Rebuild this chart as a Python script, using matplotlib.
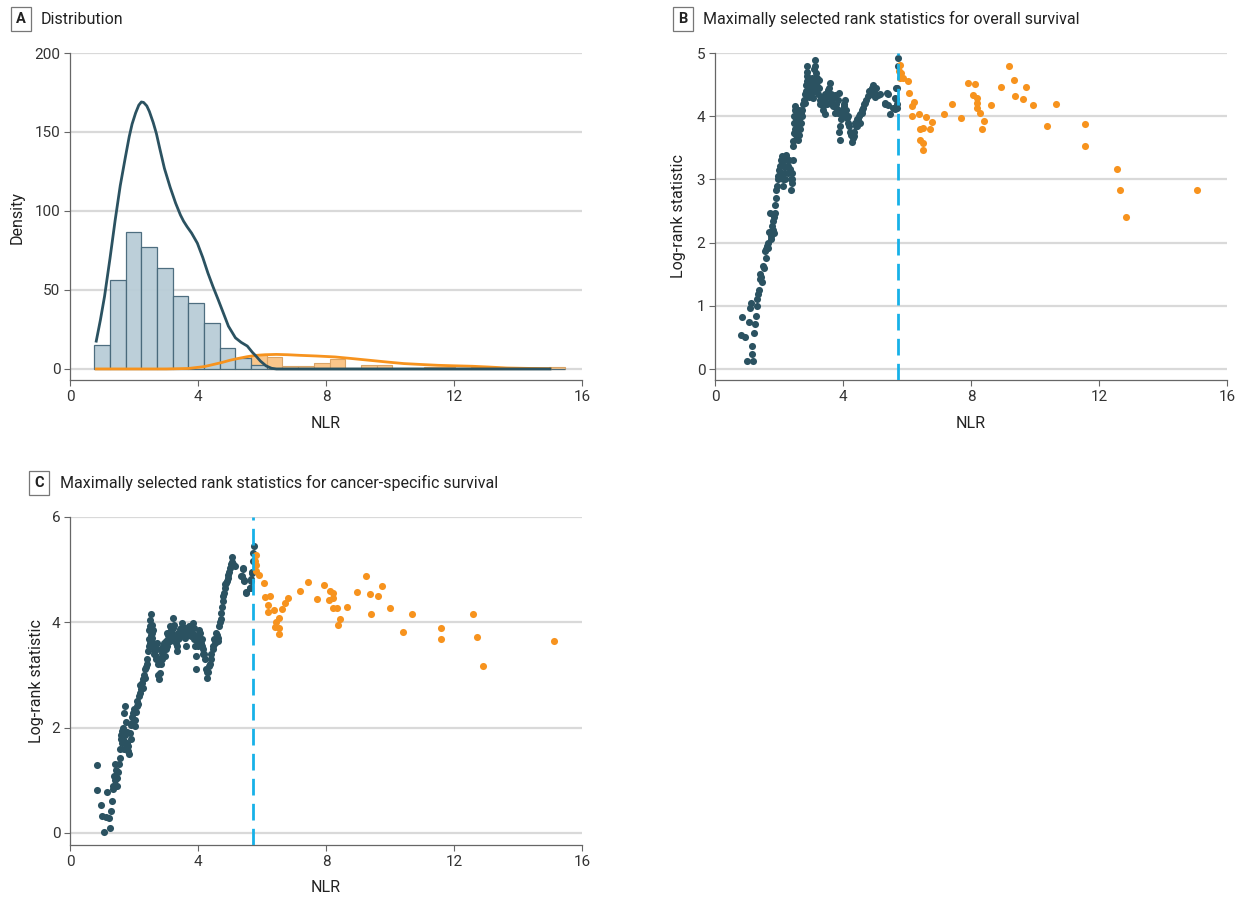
import matplotlib
matplotlib.use("Agg")
import matplotlib.pyplot as plt
from matplotlib import font_manager

# pick a narrow-ish font if there is one
names = set(f.name for f in font_manager.fontManager.ttflist)
fam = "Liberation Sans Narrow" if "Liberation Sans Narrow" in names else "Roboto"
plt.rcParams['font.family'] = [fam, 'DejaVu Sans']

DARK = '#2b5261'
ORANGE = '#f7931e'
CUT = '#17b1e8'
GRID = '#d9d9d9'

# ---- panel A: histogram (30 bins) + density curves
bin_start = 0.76
bin_width = 0.49
low_counts = [15, 56, 87, 77, 64, 46, 42, 29, 13, 7, 2.4, 0, 0, 0, 0,
              0, 0, 0, 0, 0, 0, 0, 0, 0, 0, 0, 0, 0, 0, 0]
high_counts = [0, 0, 0, 0, 0, 0, 0, 0, 0, 0, 8.7, 7.4, 1.7, 1.7, 3.6,
               6.4, 0.3, 2.5, 2.5, 0.8, 0.8, 1.3, 1.0, 0.8, 1.3, 0, 0, 0, 0, 1.2]

low_dens_x = [0.82, 0.95, 1.08, 1.25, 1.41, 1.57, 1.73, 1.85, 1.94, 2.05, 2.15, 2.23,
              2.3, 2.4, 2.48, 2.6, 2.7, 2.8, 2.95, 3.13, 3.3, 3.45, 3.55, 3.66, 3.8,
              3.98, 4.15, 4.31, 4.47, 4.63, 4.8, 4.95, 5.17, 5.35, 5.54, 5.7, 5.81,
              5.95, 6.13, 6.3, 6.45, 8, 10, 12, 14, 15.0]
low_dens_y = [17.6, 31, 46, 70, 94, 116, 134, 147, 155, 162, 167, 169,
              168.7, 166.5, 163, 156, 149, 140, 127, 115, 105, 97.5, 93.5, 90, 86,
              79.6, 70.5, 60.7, 52, 43.9, 35, 27.1, 19.7, 16.8, 14.5, 10.5, 8.2,
              5, 1.9, 0.4, 0, 0, 0, 0, 0, 0]
high_dens_x = [0.82, 2, 3, 3.7, 4.2, 4.73, 5.0, 5.27, 5.55, 5.81, 6.1, 6.45, 6.8,
               7.2, 7.7, 8.28, 8.8, 9.35, 9.9, 10.43, 11.0, 11.5, 12.0, 12.57, 13.1,
               13.65, 14.3, 15.0]
high_dens_y = [0, 0, 0, 0.3, 1.5, 4, 5.5, 6.7, 7.8, 8.6, 9.0, 9.2, 9.0,
               8.6, 8.2, 7.6, 6.6, 5.5, 4.4, 3.4, 2.8, 2.3, 2.0, 1.7, 1.2,
               0.6, 0.35, 0.2]

# ---- panel B: overall survival, log-rank statistic per cutpoint
os_low_x = [0.81, 0.83, 0.95, 1.01, 1.06, 1.09, 1.14, 1.15, 1.17, 1.2, 1.22, 1.25, 1.28, 1.3,
            1.32, 1.35, 1.37, 1.4, 1.42, 1.44, 1.47, 1.51, 1.53, 1.56, 1.58, 1.6, 1.63, 1.65,
            1.67, 1.69, 1.72, 1.74, 1.76, 1.77, 1.8, 1.82, 1.83, 1.85, 1.87, 1.89, 1.9, 1.92,
            1.94, 1.96, 1.98, 2.0, 2.01, 2.03, 2.05, 2.06, 2.08, 2.1, 2.11, 2.13, 2.15, 2.16,
            2.18, 2.2, 2.21, 2.23, 2.25, 2.27, 2.29, 2.31, 2.34, 2.36, 2.39, 2.4, 2.41, 2.42,
            2.43, 2.44, 2.45, 2.46, 2.47, 2.48, 2.49, 2.5, 2.5, 2.52, 2.53, 2.54, 2.55, 2.56,
            2.57, 2.58, 2.59, 2.6, 2.61, 2.62, 2.63, 2.64, 2.65, 2.67, 2.68, 2.7, 2.72, 2.73,
            2.75, 2.78, 2.8, 2.81, 2.83, 2.85, 2.86, 2.87, 2.88, 2.89, 2.9, 2.92, 2.94, 2.96,
            2.98, 3.0, 3.01, 3.03, 3.05, 3.07, 3.09, 3.1, 3.12, 3.14, 3.15, 3.16, 3.17, 3.19,
            3.2, 3.22, 3.24, 3.26, 3.27, 3.29, 3.31, 3.33, 3.36, 3.38, 3.4, 3.43, 3.45, 3.48,
            3.5, 3.53, 3.55, 3.57, 3.59, 3.62, 3.64, 3.66, 3.69, 3.72, 3.74, 3.76, 3.79, 3.82,
            3.84, 3.85, 3.87, 3.88, 3.9, 3.91, 3.93, 3.95, 3.97, 4.0, 4.02, 4.04, 4.06, 4.07,
            4.1, 4.13, 4.15, 4.17, 4.19, 4.21, 4.24, 4.26, 4.28, 4.3, 4.33, 4.35, 4.37, 4.4,
            4.43, 4.45, 4.47, 4.5, 4.52, 4.54, 4.58, 4.6, 4.63, 4.66, 4.7, 4.73, 4.78, 4.81,
            4.84, 4.87, 4.9, 4.94, 4.97, 5.0, 5.02, 5.09, 5.15, 5.3, 5.3, 5.39, 5.41, 5.41,
            5.46, 5.56, 5.61, 5.62, 5.65, 5.67, 5.68, 5.69, 5.7, 5.71, 5.72]
os_low_y = [0.54, 0.82, 0.51, 0.12, 0.75, 0.96, 1.05, 0.37, 0.24, 0.13, 0.57, 0.71, 0.84, 1.0,
            1.1, 1.18, 1.25, 1.42, 1.51, 1.45, 1.38, 1.63, 1.6, 1.87, 1.75, 1.9, 1.95, 2.0,
            1.92, 2.16, 2.47, 2.1, 2.05, 2.26, 2.2, 2.34, 2.15, 2.4, 2.47, 2.6, 2.7, 2.84,
            2.9, 3.0, 3.05, 3.05, 3.15, 3.21, 3.3, 3.1, 3.37, 3.25, 3.0, 2.89, 3.1, 3.3,
            3.0, 3.2, 3.35, 3.39, 3.3, 3.1, 3.21, 3.3, 3.16, 3.0, 2.84, 2.95, 3.1, 3.0,
            3.3, 3.53, 3.6, 3.74, 3.9, 4.0, 4.16, 3.8, 4.1, 3.7, 3.95, 4.1, 3.85, 3.65,
            3.79, 4.0, 3.9, 3.63, 3.7, 4.1, 4.05, 3.95, 3.8, 3.89, 4.05, 3.9, 4.1, 4.0,
            4.2, 4.25, 4.35, 4.21, 4.4, 4.5, 4.63, 4.7, 4.55, 4.79, 4.35, 4.42, 4.3, 4.37,
            4.45, 4.35, 4.53, 4.6, 4.4, 4.29, 4.75, 4.5, 4.89, 4.8, 4.68, 4.55, 4.4, 4.47,
            4.6, 4.35, 4.58, 4.45, 4.2, 4.26, 4.3, 4.2, 4.16, 4.1, 4.25, 4.03, 4.35, 4.32,
            4.2, 4.42, 4.45, 4.3, 4.53, 4.35, 4.24, 4.2, 4.16, 4.3, 4.05, 4.34, 4.2, 4.11,
            4.05, 4.25, 4.37, 3.75, 3.63, 3.85, 4.05, 3.95, 4.1, 4.0, 4.16, 4.2, 4.05, 4.26,
            4.1, 3.97, 3.9, 4.0, 3.84, 3.75, 3.74, 3.7, 3.59, 3.65, 3.68, 3.75, 3.9, 3.84,
            3.85, 3.95, 3.95, 4.0, 3.9, 4.03, 4.05, 4.1, 4.13, 4.2, 4.21, 4.25, 4.32, 4.4,
            4.35, 4.42, 4.45, 4.5, 4.4, 4.3, 4.45, 4.34, 4.35, 4.21, 4.2, 4.36, 4.35, 4.18,
            4.03, 4.13, 4.11, 4.29, 4.28, 4.45, 4.19, 4.13, 4.44, 4.79, 4.92]
os_high_x = [5.74, 5.77, 5.77, 5.81, 5.87, 6.03, 6.06, 6.15, 6.15, 6.23, 6.37, 6.4, 6.41,
             6.5, 6.51, 6.51, 6.59, 6.71, 6.78, 7.16, 7.41, 7.68, 7.9, 8.06, 8.11, 8.18,
             8.18, 8.2, 8.29, 8.34, 8.41, 8.61, 8.93, 9.2, 9.33, 9.36, 9.61, 9.71, 9.95,
             10.39, 10.65, 11.55, 11.56, 12.55, 12.66, 12.85, 15.06]
os_high_y = [4.72, 4.81, 4.6, 4.69, 4.6, 4.56, 4.37, 4.16, 4.01, 4.23, 4.03, 3.8, 3.62,
             3.81, 3.58, 3.46, 3.99, 3.8, 3.91, 4.04, 4.2, 3.97, 4.52, 4.33, 4.51, 4.29,
             4.13, 4.21, 4.05, 3.8, 3.92, 4.17, 4.46, 4.8, 4.58, 4.32, 4.27, 4.46, 4.17,
             3.85, 4.19, 3.87, 3.53, 3.17, 2.84, 2.41, 2.83]

# ---- panel C: cancer-specific survival
css_low_x = [0.83, 0.85, 0.96, 1.01, 1.05, 1.13, 1.17, 1.22, 1.25, 1.27, 1.3, 1.33, 1.35,
             1.38, 1.4, 1.41, 1.43, 1.46, 1.48, 1.51, 1.53, 1.56, 1.57, 1.58, 1.6, 1.62,
             1.64, 1.66, 1.68, 1.69, 1.7, 1.72, 1.73, 1.75, 1.77, 1.79, 1.8, 1.82, 1.85,
             1.87, 1.9, 1.91, 1.93, 1.95, 1.98, 2.0, 2.02, 2.03, 2.05, 2.08, 2.1, 2.12,
             2.15, 2.18, 2.2, 2.22, 2.25, 2.27, 2.29, 2.31, 2.33, 2.34, 2.37, 2.4, 2.42,
             2.44, 2.46, 2.47, 2.48, 2.49, 2.5, 2.51, 2.52, 2.53, 2.55, 2.56, 2.57, 2.59,
             2.6, 2.62, 2.64, 2.66, 2.69, 2.7, 2.71, 2.73, 2.75, 2.76, 2.78, 2.8, 2.81,
             2.83, 2.84, 2.86, 2.88, 2.9, 2.92, 2.95, 2.97, 2.99, 3.0, 3.02, 3.04, 3.05,
             3.07, 3.1, 3.12, 3.13, 3.15, 3.18, 3.2, 3.21, 3.23, 3.25, 3.28, 3.3, 3.33,
             3.35, 3.37, 3.39, 3.42, 3.44, 3.46, 3.48, 3.51, 3.53, 3.56, 3.58, 3.6, 3.63,
             3.65, 3.68, 3.7, 3.73, 3.75, 3.78, 3.8, 3.83, 3.86, 3.88, 3.9, 3.92, 3.94,
             3.94, 3.96, 3.99, 4.02, 4.04, 4.06, 4.08, 4.11, 4.13, 4.15, 4.17, 4.2, 4.22,
             4.25, 4.27, 4.29, 4.32, 4.34, 4.37, 4.4, 4.42, 4.46, 4.48, 4.51, 4.53, 4.56,
             4.6, 4.62, 4.64, 4.67, 4.69, 4.71, 4.73, 4.75, 4.77, 4.79, 4.81, 4.83, 4.85,
             4.88, 4.9, 4.93, 4.95, 4.98, 5.0, 5.02, 5.05, 5.07, 5.1, 5.16, 5.34, 5.37,
             5.42, 5.42, 5.44, 5.44, 5.49, 5.5, 5.63, 5.64, 5.66, 5.67, 5.69, 5.7, 5.71,
             5.73, 5.74]
css_low_y = [1.29, 0.82, 0.53, 0.32, 0.02, 0.31, 0.77, 0.29, 0.1, 0.42, 0.61, 0.83, 0.9,
             1.08, 1.0, 1.3, 1.2, 0.89, 1.05, 1.15, 1.3, 1.43, 1.6, 1.85, 1.78, 1.7,
             1.94, 2.0, 1.75, 2.28, 1.6, 2.41, 1.85, 2.1, 1.91, 1.7, 1.55, 1.65, 1.49,
             1.9, 1.78, 2.05, 2.09, 2.2, 2.28, 2.35, 2.15, 2.03, 2.3, 2.41, 2.5, 2.45,
             2.6, 2.65, 2.8, 2.73, 2.85, 2.75, 2.92, 3.0, 2.95, 3.11, 3.15, 3.2, 3.3,
             3.45, 3.55, 3.68, 3.85, 3.6, 4.05, 3.93, 3.75, 4.15, 3.95, 3.7, 3.8, 3.6,
             3.85, 3.4, 3.49, 3.55, 3.36, 3.3, 3.5, 3.61, 3.2, 3.0, 2.92, 3.3, 3.04,
             3.2, 3.5, 3.42, 3.3, 3.45, 3.55, 3.6, 3.36, 3.5, 3.65, 3.8, 3.55, 3.75,
             3.68, 3.8, 3.65, 3.93, 3.85, 3.8, 3.7, 3.9, 4.09, 3.95, 3.74, 3.6, 3.46,
             3.55, 3.8, 3.68, 3.7, 3.87, 3.75, 3.9, 3.99, 3.85, 3.8, 3.7, 3.9, 3.55,
             3.75, 3.84, 3.8, 3.93, 3.85, 3.74, 3.8, 3.99, 3.9, 3.68, 3.75, 3.55, 3.36,
             3.12, 3.65, 3.55, 3.7, 3.85, 3.8, 3.6, 3.68, 3.55, 3.4, 3.49, 3.4, 3.3,
             3.11, 3.05, 2.95, 3.05, 3.17, 3.2, 3.3, 3.4, 3.49, 3.55, 3.68, 3.6, 3.8,
             3.75, 3.7, 3.65, 3.93, 4.0, 4.06, 4.18, 4.3, 4.41, 4.5, 4.56, 4.65, 4.72,
             4.75, 4.78, 4.85, 4.89, 4.95, 5.04, 5.1, 5.24, 5.15, 5.1, 5.07, 4.88, 4.88,
             5.03, 5.01, 4.8, 4.79, 4.55, 4.58, 4.66, 4.65, 4.82, 4.79, 4.96, 4.93, 5.16,
             5.32, 5.44]
css_high_x = [5.77, 5.8, 5.8, 5.82, 5.9, 6.05, 6.08, 6.19, 6.2, 6.26, 6.39, 6.42, 6.44,
              6.54, 6.54, 6.54, 6.62, 6.73, 6.8, 7.2, 7.45, 7.72, 7.94, 8.08, 8.13, 8.21,
              8.22, 8.23, 8.33, 8.37, 8.44, 8.65, 8.96, 9.24, 9.36, 9.4, 9.64, 9.76, 9.99,
              10.42, 10.68, 11.58, 11.59, 12.59, 12.71, 12.9, 15.11]
css_high_y = [5.16, 5.27, 4.98, 5.08, 4.9, 4.75, 4.48, 4.32, 4.2, 4.49, 4.23, 3.92, 4.01,
              4.08, 3.9, 3.78, 4.25, 4.36, 4.47, 4.6, 4.76, 4.45, 4.71, 4.43, 4.6, 4.28,
              4.47, 4.56, 4.28, 3.94, 4.06, 4.29, 4.57, 4.87, 4.54, 4.16, 4.49, 4.68, 4.27,
              3.82, 4.15, 3.68, 3.9, 4.15, 3.72, 3.17, 3.65]

cutpoint = 5.72

W, H = 1244, 900
fig = plt.figure(figsize=(W / 100, H / 100), dpi=100)


def rect(left, right, top, bottom):
    return [left / W, 1 - bottom / H, (right - left) / W, (bottom - top) / H]


def style(ax, ylim, yticks):
    ax.set_xlim(0, 16)
    ax.set_ylim(*ylim)
    ax.set_xticks([0, 4, 8, 12, 16])
    ax.set_yticks(yticks)
    for s in ['top', 'right']:
        ax.spines[s].set_visible(False)
    for s in ['left', 'bottom']:
        ax.spines[s].set_color('#666666')
        ax.spines[s].set_linewidth(0.9)
    ax.tick_params(length=4, width=0.8, color='#666666', labelsize=11,
                   labelcolor='#333333', pad=3)
    ax.yaxis.grid(True, color=GRID, lw=1.6)
    ax.set_axisbelow(True)


def panel_title(x_box, x_text, y, letter, text):
    fig.text(x_box / W, 1 - y / H, letter, ha='center', va='center', fontsize=10.5,
             fontweight='bold', color='#222222',
             bbox=dict(boxstyle='square,pad=0.35', fc='white', ec='#777777', lw=0.9))
    fig.text(x_text / W, 1 - y / H, text, ha='left', va='center', fontsize=11.5,
             color='#222222')


# A
axA = fig.add_axes(rect(70, 582, 53, 380))
style(axA, (-7, 200), [0, 50, 100, 150, 200])
lefts = [bin_start + i * bin_width for i in range(len(low_counts))]
axA.bar(lefts, high_counts, width=bin_width, align='edge', color='#fac68a',
        edgecolor='#d9a468', lw=0.8, zorder=2)
axA.bar(lefts, low_counts, width=bin_width, align='edge', color='#b9cdd7',
        edgecolor='#46687a', lw=0.9, alpha=0.95, zorder=2)
axA.plot(high_dens_x, high_dens_y, color=ORANGE, lw=2, zorder=3, solid_joinstyle='round')
axA.plot(low_dens_x, low_dens_y, color=DARK, lw=2, zorder=4, solid_joinstyle='round')

# B
axB = fig.add_axes(rect(715, 1227, 53, 380))
style(axB, (-0.174, 5), [0, 1, 2, 3, 4, 5])
axB.scatter(os_low_x, os_low_y, s=26, color=DARK, lw=0, zorder=3)
axB.scatter(os_high_x, os_high_y, s=26, color=ORANGE, lw=0, zorder=3)
axB.axvline(cutpoint, color=CUT, lw=2, dashes=(6, 3), zorder=4)

# C
axC = fig.add_axes(rect(70, 582, 517, 845))
style(axC, (-0.23, 6), [0, 2, 4, 6])
axC.scatter(css_low_x, css_low_y, s=26, color=DARK, lw=0, zorder=3)
axC.scatter(css_high_x, css_high_y, s=26, color=ORANGE, lw=0, zorder=3)
axC.axvline(cutpoint, color=CUT, lw=2, dashes=(6, 3), zorder=4)

panel_title(21, 41, 19, 'A', 'Distribution')
panel_title(683, 703, 19, 'B', 'Maximally selected rank statistics for overall survival')
panel_title(39, 60, 483, 'C', 'Maximally selected rank statistics for cancer-specific survival')

fig.text(17 / W, 1 - 218 / H, 'Density', rotation=90, ha='center', va='center',
         fontsize=11.5, color='#222222')
fig.text(678 / W, 1 - 216 / H, 'Log-rank statistic', rotation=90, ha='center',
         va='center', fontsize=11.5, color='#222222')
fig.text(37 / W, 1 - 681 / H, 'Log-rank statistic', rotation=90, ha='center',
         va='center', fontsize=11.5, color='#222222')
fig.text(326 / W, 1 - 424 / H, 'NLR', ha='center', va='center', fontsize=11.5, color='#222222')
fig.text(971 / W, 1 - 424 / H, 'NLR', ha='center', va='center', fontsize=11.5, color='#222222')
fig.text(326 / W, 1 - 888 / H, 'NLR', ha='center', va='center', fontsize=11.5, color='#222222')

fig.savefig('out.png', dpi=100)
